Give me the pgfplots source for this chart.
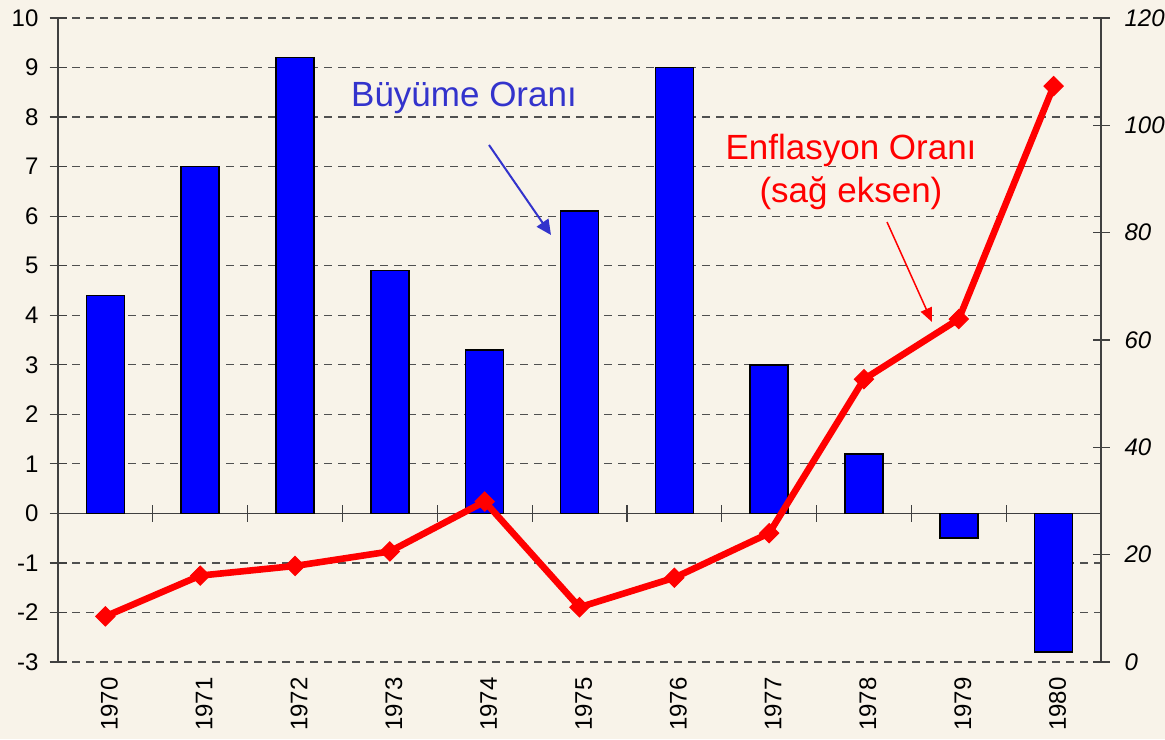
\documentclass[border=0pt]{standalone}
\usepackage{pgfplots}
\pgfplotsset{compat=1.18}
\usepackage{fontspec}
\setmainfont{Liberation Sans}
\usetikzlibrary{arrows.meta}
\definecolor{bg}{RGB}{248,243,233}
\definecolor{annblue}{RGB}{51,51,204}
\definecolor{barblue}{RGB}{0,0,255}
\definecolor{gridc}{RGB}{80,80,80}
\begin{document}
\begin{tikzpicture}
\useasboundingbox (-29pt,-38.5pt) rectangle (553.5pt,331pt);
\fill[bg] (-29pt,-38.5pt) rectangle (553.5pt,331pt);
% Left axis: growth rate (bars)
\begin{axis}[
  at={(0pt,0pt)}, anchor=south west,
  scale only axis, width=521.5pt, height=322pt,
  xmin=-0.5, xmax=10.5, ymin=-3, ymax=10,
  axis y line*=left, axis x line*=middle,
  axis line style={-, draw=black!75, line width=0.6pt},
  hide obscured y ticks=false,
  xtick={0.5,1.5,2.5,3.5,4.5,5.5,6.5,7.5,8.5,9.5},
  xticklabels={},
  ytick={-3,-2,-1,0,1,2,3,4,5,6,7,8,9,10},
  tick align=center, major tick length=8.5pt,
  tick style={draw=black!75, line width=0.6pt},
  x tick style={yshift=4.25pt},
  ymajorgrids,
  grid style={draw=gridc, line width=0.6pt, dash pattern=on 4pt off 3pt},
  /pgf/number format/assume math mode=true,
  yticklabel style={font=\fontsize{12}{14}\selectfont, xshift=-2pt},
  ybar, bar width=19pt,
]
\addplot[fill=barblue, draw=black, line width=0.8pt] coordinates {
  (0,4.4) (1,7.0) (2,9.2) (3,4.9) (4,3.3) (5,6.1)
  (6,9.0) (7,3.0) (8,1.2) (9,-0.5) (10,-2.8)
};
\end{axis}
% Right axis: inflation rate (line)
\begin{axis}[
  at={(0pt,0pt)}, anchor=south west,
  scale only axis, width=521.5pt, height=322pt,
  xmin=-0.5, xmax=10.5, ymin=0, ymax=120,
  axis y line*=right, axis x line*=bottom,
  x axis line style={draw=none},
  y axis line style={-, draw=black!75, line width=0.6pt},
  xtick={0,1,2,3,4,5,6,7,8,9,10},
  xticklabels={1970,1971,1972,1973,1974,1975,1976,1977,1978,1979,1980},
  x tick style={draw=none},
  ytick={0,20,40,60,80,100,120},
  tick align=center, major tick length=8.5pt,
  y tick style={draw=black!75, line width=0.6pt},
  /pgf/number format/assume math mode=true,
  x tick label style={rotate=90, anchor=east, font=\fontsize{12}{14}\selectfont, yshift=-2pt},
  y tick label style={font=\fontsize{12}{14}\selectfont\itshape, xshift=4pt},
]
\addplot[draw=red, line width=3.3pt, mark=square*,
  mark size=3.4pt, mark options={rotate=45, fill=red, draw=red, line width=0.5pt, solid}] coordinates {
  (0,8.5) (1,16.1) (2,17.9) (3,20.6) (4,29.9) (5,10.2)
  (6,15.7) (7,24.0) (8,52.7) (9,63.9) (10,107.3)
};
\end{axis}
% Annotations
\node[text=annblue, font=\fontsize{17.5}{21}\selectfont] at (203pt,282pt) {Büyüme Oranı};
\draw[annblue, line width=1pt, -{Triangle[length=7.5pt, width=7pt]}] (215.5pt,258.5pt) -- (246.5pt,213.5pt);
\node[text=red, align=center, font=\fontsize{17.5}{21.5}\selectfont] at (396.5pt,245pt) {Enflasyon Oranı\\(sağ eksen)};
\draw[red, line width=0.75pt, -{Triangle[length=7pt, width=6pt]}] (414.5pt,220pt) -- (437pt,170pt);
\end{tikzpicture}
\end{document}
